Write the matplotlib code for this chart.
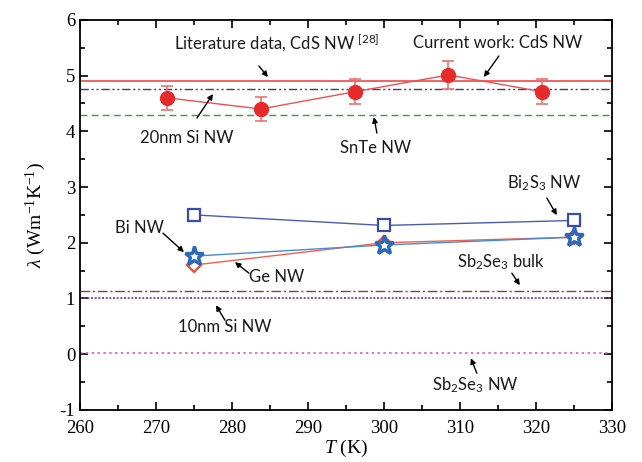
import numpy as np
import matplotlib
matplotlib.use("Agg")
import matplotlib.pyplot as plt
from matplotlib.ticker import MultipleLocator

plt.rcParams['font.family'] = ['Liberation Serif', 'DejaVu Serif']
plt.rcParams['mathtext.default'] = 'regular'
plt.rcParams['mathtext.fontset'] = 'custom'
plt.rcParams['mathtext.it'] = 'Liberation Serif:italic'
plt.rcParams['mathtext.rm'] = 'Liberation Serif'
plt.rcParams['axes.unicode_minus'] = False

# current work, CdS NW (with error bars)
cds_T = [271.4, 283.8, 296.2, 308.5, 320.8]
cds_k = [4.60, 4.40, 4.71, 5.01, 4.71]
cds_err = [0.22, 0.22, 0.22, 0.25, 0.22]

# other nanowires measured at three temperatures
nw_T = [275, 300, 325]
bi2s3_k = [2.50, 2.31, 2.40]
bi_k = [1.76, 1.96, 2.10]
ge_k = [1.60, 2.00, 2.10]

# constant reference values
lit_cds = 4.90
si20 = 4.75
snte = 4.30
sb2se3_bulk = 1.14
si10 = 1.00
sb2se3_nw = 0.03

fig = plt.figure(figsize=(6.42, 4.62), dpi=100)
ax = fig.add_axes([0.1246, 0.1126, 0.8284, 0.8446])

ax.axhline(lit_cds, color='#f04848', lw=1.2)
ax.axhline(si20, color='#3a3a8c', lw=1.0, ls=(0, (6, 2, 1.5, 2, 1.5, 2)))
ax.axhline(snte, color='#3a9a48', lw=1.0, ls=(0, (5, 3)))
ax.axhline(sb2se3_bulk, color='#a03438', lw=1.0, ls=(0, (7, 2, 1.5, 2)))
ax.axhline(si10, color='#8a2aa8', lw=1.2, ls=(0, (1.2, 1)))
ax.axhline(sb2se3_nw, color='#d860b8', lw=1.2, ls=(0, (1.5, 2)))

ax.plot(cds_T, cds_k, color='#f05050', lw=1.0)
ax.errorbar(cds_T, cds_k, yerr=cds_err, fmt='o', color='#e82a2a', ms=10,
            ecolor='#f07070', elinewidth=1.2, capsize=4, capthick=1.2, zorder=5)

ax.plot(nw_T, bi2s3_k, color='#4a5cb0', lw=1.0, marker='s', ms=9,
        mfc='white', mec='#3a4ca8', mew=1.6)
ax.plot(nw_T, ge_k, color='#f06050', lw=1.0, marker='D', ms=7.5,
        mfc='white', mec='#f04a30', mew=1.6)
ax.plot(nw_T, bi_k, color='#4a8ad0', lw=1.0, marker='*', ms=14,
        mfc='white', mec='#2a6ab8', mew=2.4)

ax.set_xlim(260, 330)
ax.set_ylim(-1, 6)
ax.xaxis.set_major_locator(MultipleLocator(10))
ax.xaxis.set_minor_locator(MultipleLocator(5))
ax.yaxis.set_major_locator(MultipleLocator(1))
ax.yaxis.set_minor_locator(MultipleLocator(0.5))
ax.tick_params(which='both', direction='in', top=True, right=True, width=1.2,
               labelsize=13.5)
ax.tick_params(which='major', length=6)
ax.tick_params(which='minor', length=3.5)
ax.tick_params(axis='x', pad=7)
for s in ax.spines.values():
    s.set_linewidth(1.3)

ax.set_xlabel('$\\mathit{T}$ (K)', fontsize=14, labelpad=1)
ax.set_ylabel('$\\mathit{\\lambda}$ (Wm$^{-1}$K$^{-1}$)', fontsize=14, labelpad=8)


def px(x, y):
    # figure pixel -> data coordinates
    return 260 + (x - 80) / 7.6, (354 - y) / 55.7


def arrow(tail, tip):
    ax.annotate('', xy=px(*tip), xytext=px(*tail),
                arrowprops=dict(arrowstyle='-|>', color='black', lw=1.0,
                                shrinkA=0, shrinkB=0, mutation_scale=8))


def label(text, pos):
    ax.text(*px(*pos), text, ha='center', va='center', family='Lato',
            fontsize=12, color='#1a1a1a')


label('Literature data, CdS NW $^{[28]}$', (277, 43))
arrow((259, 66), (268, 77))
label('Current work: CdS NW', (498, 43))
arrow((499, 56), (484, 77))
label('20nm Si NW', (187, 138))
arrow((197, 118), (213, 94))
label('SnTe NW', (376, 148))
arrow((377, 133), (374, 117))
label('Bi$_2$S$_3$ NW', (544, 183))
arrow((547, 198), (557, 215))
label('Bi NW', (139, 228))
arrow((163, 233), (184, 252))
label('Ge NW', (277, 277))
arrow((249, 273), (235, 262))
label('10nm Si NW', (225, 327))
arrow((225, 320), (216, 305))
label('Sb$_2$Se$_3$ bulk', (501, 262))
arrow((512, 273), (520, 285))
label('Sb$_2$Se$_3$ NW', (476, 385))
arrow((477, 373), (471, 358))

fig.savefig('out.png', dpi=100)
